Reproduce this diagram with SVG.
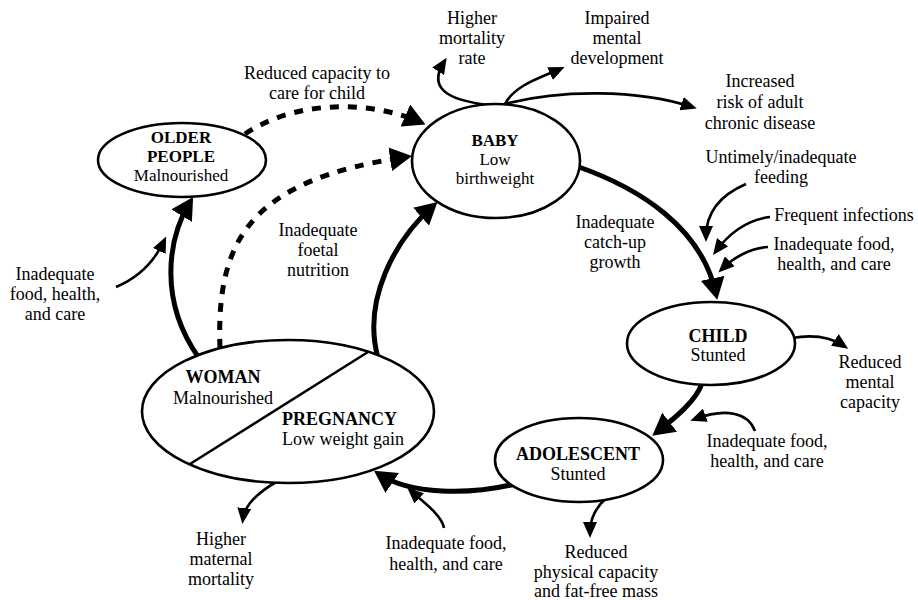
<svg xmlns="http://www.w3.org/2000/svg" width="918" height="600" viewBox="0 0 918 600">
<style>
.t{font-family:"Liberation Serif","Times New Roman",serif;font-size:18px;text-anchor:middle;fill:#000}
.n{font-size:17px}
.b{font-weight:bold}
.s{text-anchor:start}
.node ellipse{fill:#fff;stroke:#000;stroke-width:2.6}
.thick{fill:none;stroke:#000;stroke-width:5}
.dash{fill:none;stroke:#000;stroke-width:5;stroke-dasharray:9 9}
.thin{fill:none;stroke:#000;stroke-width:2.6}
</style>
<defs>
<marker id="big" viewBox="0 0 22 24" refX="16" refY="12" markerWidth="22" markerHeight="24" markerUnits="userSpaceOnUse" orient="auto">
<path d="M0,0 L22,12 L0,24 z" fill="#000"/>
</marker>
<marker id="small" viewBox="0 0 16 14" refX="11" refY="7" markerWidth="16" markerHeight="14" markerUnits="userSpaceOnUse" orient="auto">
<path d="M0,0 L16,7 L0,14 z" fill="#000"/>
</marker>
</defs>
<rect width="918" height="600" fill="#fff"/>
<g id="connectors">
<path class="thick" d="M199,358 C158,300 168,238 190,202" marker-end="url(#big)"/>
<path class="thick" d="M378,358 C362,300 395,240 433,206" marker-end="url(#big)"/>
<path class="thick" d="M576,166 C640,188 702,228 716,294" marker-end="url(#big)"/>
<path class="thick" d="M702,383 C697,400 675,418 657,432" marker-end="url(#big)"/>
<path class="thick" d="M515,484 C470,495 410,495 379,474" marker-end="url(#big)"/>
<path class="dash" d="M245,134 C295,100 370,100 420,122" marker-end="url(#big)"/>
<path class="dash" d="M220,348 C216,240 250,180 406,157" marker-end="url(#big)"/>
<path class="thin" d="M497,106 C455,102 425,92 444,62" marker-end="url(#small)"/>
<path class="thin" d="M505,104 C515,85 540,78 560,69" marker-end="url(#small)"/>
<path class="thin" d="M497,106 C560,88 640,90 692,107" marker-end="url(#small)"/>
<path class="thin" d="M746,184 C718,196 706,215 706,237" marker-end="url(#small)"/>
<path class="thin" d="M770,217 C745,220 728,235 716,251" marker-end="url(#small)"/>
<path class="thin" d="M768,247 C750,248 733,258 722,269" marker-end="url(#small)"/>
<path class="thin" d="M792,338 C815,334 832,338 844,346" marker-end="url(#small)"/>
<path class="thin" d="M755,431 C748,412 725,408 695,419" marker-end="url(#small)"/>
<path class="thin" d="M606,498 C596,508 590,518 590,533" marker-end="url(#small)"/>
<path class="thin" d="M444,528 C442,515 422,501 411,491" marker-end="url(#small)"/>
<path class="thin" d="M278,481 C262,490 245,502 243,519" marker-end="url(#small)"/>
<path class="thin" d="M116,287 C140,277 155,260 164,241" marker-end="url(#small)"/>
</g>
<g id="older" class="node">
<ellipse cx="182" cy="160" rx="84" ry="37"/>
<text class="t n b" x="181" y="143">OLDER</text>
<text class="t n b" x="181" y="162">PEOPLE</text>
<text class="t n" x="181" y="181">Malnourished</text>
</g>
<g id="baby" class="node">
<ellipse cx="496" cy="161" rx="84" ry="57"/>
<text class="t n b" x="495" y="146">BABY</text>
<text class="t n" x="495" y="165">Low</text>
<text class="t n" x="495" y="184">birthweight</text>
</g>
<g id="child" class="node">
<ellipse cx="711" cy="343.5" rx="84" ry="41.5"/>
<text class="t b" x="718" y="342">CHILD</text>
<text class="t" x="718" y="361">Stunted</text>
</g>
<g id="adolescent" class="node">
<ellipse cx="579" cy="460" rx="84" ry="42"/>
<text class="t b" x="578" y="460">ADOLESCENT</text>
<text class="t" x="578" y="480">Stunted</text>
</g>
<g id="woman" class="node">
<ellipse cx="288" cy="411.5" rx="146" ry="71.5"/>
<line x1="368" y1="352" x2="190" y2="464" stroke="#000" stroke-width="2.6"/>
<text class="t b" x="223" y="383">WOMAN</text>
<text class="t" x="223" y="404">Malnourished</text>
<text class="t b s" x="282" y="425">PREGNANCY</text>
<text class="t s" x="282" y="445">Low weight gain</text>
</g>
<g id="labels">
<text class="t" x="317" y="79">Reduced capacity to</text>
<text class="t" x="317" y="99">care for child</text>
<text class="t" x="472" y="24">Higher</text>
<text class="t" x="472" y="44">mortality</text>
<text class="t" x="472" y="64">rate</text>
<text class="t" x="617" y="24">Impaired</text>
<text class="t" x="617" y="44">mental</text>
<text class="t" x="617" y="64">development</text>
<text class="t" x="760" y="87">Increased</text>
<text class="t" x="760" y="108">risk of adult</text>
<text class="t" x="760" y="129">chronic disease</text>
<text class="t" x="781" y="163">Untimely/inadequate</text>
<text class="t" x="781" y="183">feeding</text>
<text class="t" x="844" y="221">Frequent infections</text>
<text class="t" x="834" y="250">Inadequate food,</text>
<text class="t" x="834" y="270">health, and care</text>
<text class="t" x="615" y="228">Inadequate</text>
<text class="t" x="615" y="248">catch-up</text>
<text class="t" x="615" y="268">growth</text>
<text class="t" x="318" y="236">Inadequate</text>
<text class="t" x="318" y="256">foetal</text>
<text class="t" x="318" y="276">nutrition</text>
<text class="t" x="55" y="280">Inadequate</text>
<text class="t" x="55" y="300">food, health,</text>
<text class="t" x="55" y="320">and care</text>
<text class="t" x="870" y="368">Reduced</text>
<text class="t" x="870" y="388">mental</text>
<text class="t" x="870" y="408">capacity</text>
<text class="t" x="767" y="447">Inadequate food,</text>
<text class="t" x="767" y="467">health, and care</text>
<text class="t" x="596" y="558">Reduced</text>
<text class="t" x="596" y="578">physical capacity</text>
<text class="t" x="596" y="597">and fat-free mass</text>
<text class="t" x="446" y="549">Inadequate food,</text>
<text class="t" x="446" y="570">health, and care</text>
<text class="t" x="221" y="545">Higher</text>
<text class="t" x="221" y="565">maternal</text>
<text class="t" x="221" y="585">mortality</text>
</g>
</svg>
